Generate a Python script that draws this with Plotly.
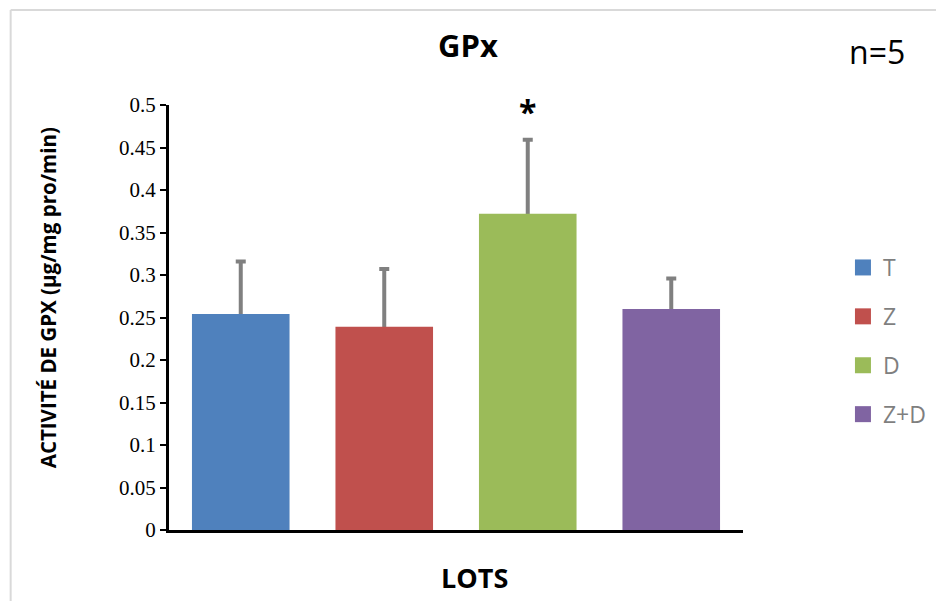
import plotly.graph_objects as go

# Data
categories = ["T", "Z", "D", "Z+D"]
values = [0.254, 0.239, 0.372, 0.260]
errors = [0.062, 0.068, 0.087, 0.036]
colors = ["#4F81BD", "#C0504D", "#9BBB59", "#8064A2"]
y_ticks = [0, 0.05, 0.1, 0.15, 0.2, 0.25, 0.3, 0.35, 0.4, 0.45, 0.5]
y_tick_labels = ["0", "0.05", "0.1", "0.15", "0.2", "0.25", "0.3", "0.35", "0.4", "0.45", "0.5"]
significant = ["D"]

OFF = 8  # page body margin
W, H = 944 - OFF, 601 - OFF
# plot area in page pixels
PL, PR, PT, PB = 169, 749, 105, 530
L, T = PL - OFF, PT - OFF
R, B = W - (PR - OFF), H - (PB - OFF)
pw, ph = PR - PL, PB - PT


def px_x(px):
    return (px - PL) / pw


def px_y(py):
    return (PB - py) / ph


fig = go.Figure()
# error bars first (transparent bars), so the coloured bars hide their lower half
for cat, val, err in zip(categories, values, errors):
    fig.add_trace(go.Bar(
        x=[cat], y=[val], marker=dict(color="rgba(0,0,0,0)", line=dict(width=0)),
        showlegend=False, hoverinfo="skip",
        error_y=dict(type="data", array=[err], color="#808080", thickness=4, width=5),
    ))
for cat, val, col in zip(categories, values, colors):
    fig.add_trace(go.Bar(
        x=[cat], y=[val], name=cat, marker=dict(color=col, line=dict(width=0)),
        showlegend=False,
    ))
# legend entries with larger square swatches
for cat, col in zip(categories, colors):
    fig.add_trace(go.Scatter(
        x=[None], y=[None], mode="markers", name=cat, legendgroup=cat,
        marker=dict(symbol="square", size=16, color=col),
    ))

for cat in significant:
    idx = categories.index(cat)
    fig.add_annotation(x=cat, y=values[idx] + errors[idx], xref="x", yref="y",
                       text="<b>*</b>", showarrow=False, yshift=28,
                       xanchor="center", yanchor="middle",
                       font=dict(family="Open Sans", size=32, color="black"))


def label(x, y, text, size, angle=0):
    fig.add_annotation(x=px_x(x), y=px_y(y), xref="paper", yref="paper", text=text,
                       showarrow=False, xanchor="center", yanchor="middle", textangle=angle,
                       font=dict(family="Open Sans", size=size, color="black"))


label(471, 45, "<b>GPx</b>", 31)
label(884, 52, "n=5", 32)
label(478, 577, "<b>LOTS</b>", 27)
label(47, 298, "<b>ACTIVITÉ DE GPX (µg/mg pro/min)</b>", 20.5, -90)

# chart border (light grey)
bx, by = px_x(9), px_y(10)
fig.add_shape(type="line", xref="paper", yref="paper", x0=bx, x1=bx, y0=px_y(620), y1=by,
              line=dict(color="#d9d9d9", width=2))
fig.add_shape(type="line", xref="paper", yref="paper", x0=bx, x1=px_x(960), y0=by, y1=by,
              line=dict(color="#d9d9d9", width=2))

fig.update_layout(
    width=W, height=H,
    margin=dict(l=L, r=R, t=T, b=B),
    paper_bgcolor="white", plot_bgcolor="white",
    barmode="overlay", bargap=0.32,
    showlegend=True,
    legend=dict(x=px_x(850), y=px_y(246), xanchor="left", yanchor="top",
                font=dict(family="Open Sans", size=23, color="#7f7f7f"),
                tracegroupgap=16, bgcolor="rgba(0,0,0,0)"),
    xaxis=dict(showticklabels=False, showline=True, linecolor="black", linewidth=3,
               ticks="", showgrid=False, zeroline=False),
    yaxis=dict(range=[0, 0.5], tickvals=y_ticks, ticktext=y_tick_labels,
               showline=True, linecolor="black", linewidth=3, ticks="outside",
               ticklen=6, tickwidth=2, tickcolor="black", showgrid=False, zeroline=False,
               tickfont=dict(family="Liberation Serif", size=21, color="black")),
)

fig.write_html("out.html")
